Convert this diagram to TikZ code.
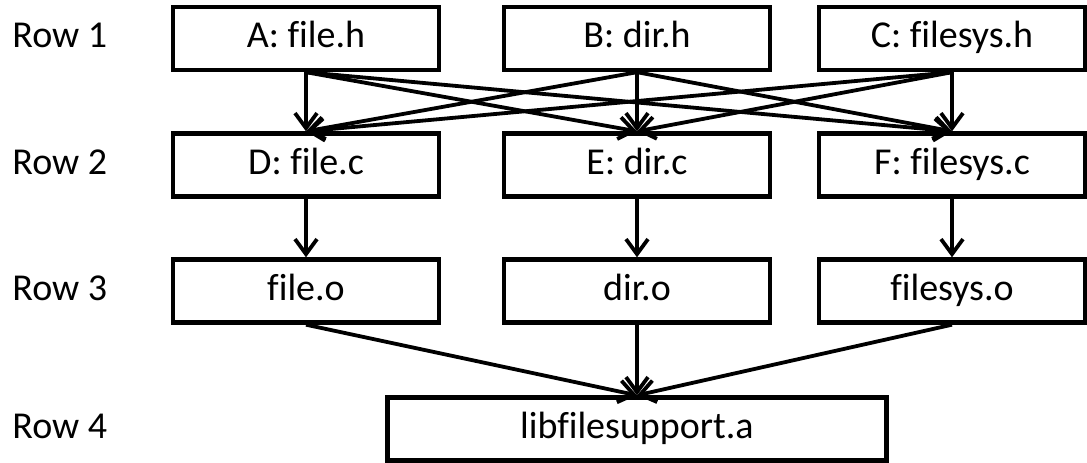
\documentclass[tikz,border=0pt]{standalone}
\usepackage{fontspec}
\setmainfont{Carlito}[Ligatures=NoCommon]
\usetikzlibrary{arrows.meta}

\begin{document}
\begin{tikzpicture}[x=0.5pt,y=-0.5pt,
  filebox/.style={draw,line width=2.2pt,minimum width=133pt,minimum height=31.5pt,inner sep=0pt,text height=13pt,text depth=4pt,font=\fontsize{19}{22}\selectfont},
  rowlabel/.style={anchor=west,inner sep=0pt,text height=13pt,text depth=4pt,font=\fontsize{19}{22}\selectfont},
  dep/.style={line width=1.9pt,-{Straight Barb[length=7.5pt,width=11pt,line width=1.9pt]}}]
\useasboundingbox (0,0) rectangle (1087,462);
\node[rowlabel] (r1) at (12,38.5) {Row 1};
\node[rowlabel] (r2) at (12,165) {Row 2};
\node[rowlabel] (r3) at (12,291) {Row 3};
\node[rowlabel] (r4) at (12,429) {Row 4};
\node[filebox] (A) at (306,38.5) {A: file.h};
\node[filebox] (B) at (637,38.5) {B: dir.h};
\node[filebox] (C) at (952,38.5) {C: filesys.h};
\node[filebox] (D) at (306,165) {D: file.c};
\node[filebox] (E) at (637,165) {E: dir.c};
\node[filebox] (F) at (952,165) {F: filesys.c};
\node[filebox] (Do) at (306,291) {file.o};
\node[filebox] (Eo) at (637,291) {dir.o};
\node[filebox] (Fo) at (952,291) {filesys.o};
\node[filebox,minimum width=249.5pt] (lib) at (637,429) {libfilesupport.a};
\foreach \h in {A,B,C}
  \foreach \c in {D,E,F}
    \draw[dep] (\h.south) -- (\c.north);
\draw[dep] (D) -- (Do);
\draw[dep] (E) -- (Eo);
\draw[dep] (F) -- (Fo);
\draw[dep] (Do.south) -- (lib.north);
\draw[dep] (Eo) -- (lib);
\draw[dep] (Fo.south) -- (lib.north);
\end{tikzpicture}
\end{document}
